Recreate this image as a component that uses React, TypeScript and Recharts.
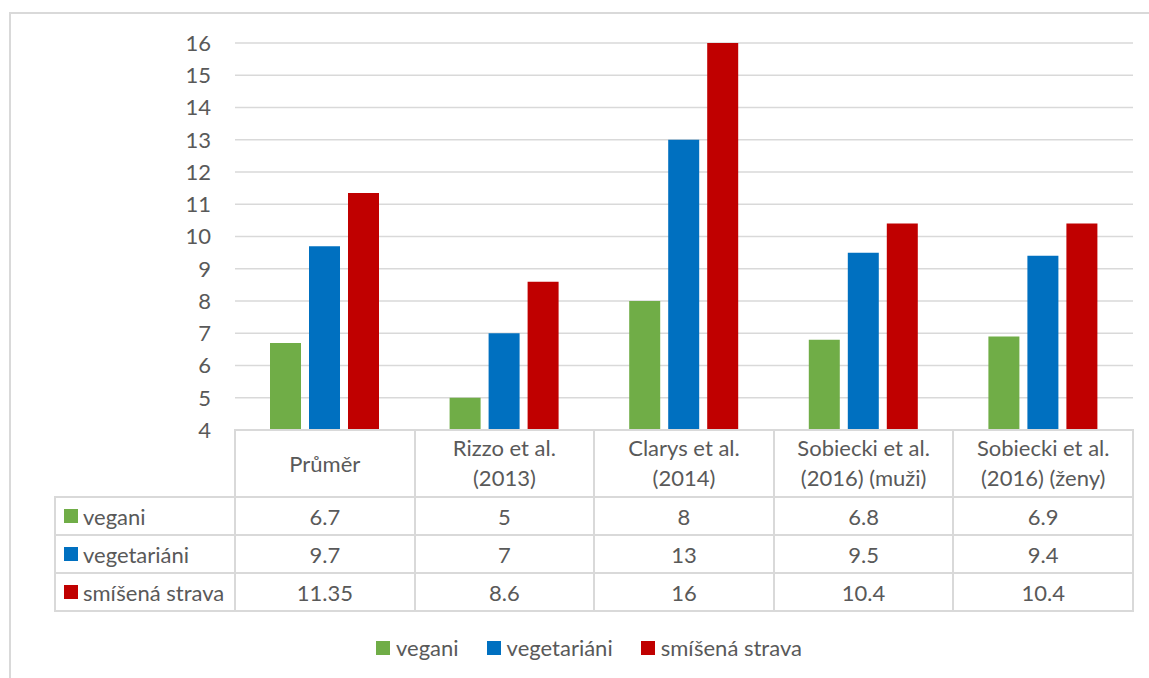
import React from 'react';
import { BarChart, Bar, XAxis, YAxis, CartesianGrid, Legend } from 'recharts';

// Chart values
const categories = [
    'Průměr',
    'Rizzo et al.\n(2013)',
    'Clarys et al.\n(2014)',
    'Sobiecki et al.\n(2016) (muži)',
    'Sobiecki et al.\n(2016) (ženy)',
];
const vegani = [6.7, 5, 8, 6.8, 6.9];
const vegetariani = [9.7, 7, 13, 9.5, 9.4];
const smisenaStrava = [11.35, 8.6, 16, 10.4, 10.4];
const yTicks = [4, 5, 6, 7, 8, 9, 10, 11, 12, 13, 14, 15, 16];

const series = [
    { key: 'vegani', name: 'vegani', color: '#70AD47', values: vegani },
    { key: 'vegetariani', name: 'vegetariáni', color: '#0070C0', values: vegetariani },
    { key: 'smisena', name: 'smíšená strava', color: '#C00000', values: smisenaStrava },
];

const data = categories.map((category, i) => {
    const row: Record<string, string | number> = { category };
    series.forEach(s => { row[s.key] = s.values[i]; });
    return row;
});

const TEXT = '#595959';
const LINE = '#d9d9d9';
const FONT = 22;

// layout of the plot area and the data table below it
const plotLeft = 235;
const plotRight = 1133;
const plotTop = 43;
const plotBottom = 430;
const headerH = 67;
const rowH = 38;
const tableLeft = 55;
const colW = (plotRight - plotLeft) / categories.length;

const CategoryTick = (props: any) => {
    const { x, y, payload } = props;
    const lines = String(payload.value).split('\n');
    const first = lines.length === 1 ? y + headerH / 2 : y + 18;
    return (
        <text x={x} textAnchor="middle" fill={TEXT} fontSize={FONT}>
            {lines.map((l, i) => (
                <tspan key={i} x={x} y={first + i * 30 + 8}>{l}</tspan>
            ))}
        </text>
    );
};

const LegendContent = () => (
    <div style={{ display: 'flex', alignItems: 'center', color: TEXT, fontSize: FONT }}>
        {series.map(s => (
            <div key={s.key} style={{ display: 'flex', alignItems: 'center', marginRight: 28 }}>
                <span style={{ width: 14, height: 14, background: s.color, marginRight: 6, display: 'inline-block' }} />
                <span>{s.name}</span>
            </div>
        ))}
    </div>
);

const DataTable = () => {
    const rowsTop = plotBottom + headerH;
    const tableBottom = rowsTop + rowH * series.length;
    const hLines = [
        { y: rowsTop, x1: tableLeft, x2: plotRight },
        ...series.map((_, i) => ({ y: rowsTop + rowH * (i + 1), x1: tableLeft, x2: plotRight })),
    ];
    const vLines = [
        { x: tableLeft, y1: rowsTop, y2: tableBottom },
        ...Array.from({ length: categories.length + 1 }, (_, i) => ({ x: plotLeft + colW * i, y1: plotBottom, y2: tableBottom })),
    ];
    return (
        <div style={{ position: 'absolute', left: 0, top: 0, width: 1149, height: 678, pointerEvents: 'none' }}>
            {hLines.map((l, i) => (
                <div key={'h' + i} style={{ position: 'absolute', left: l.x1 - 1, top: l.y - 1, width: l.x2 - l.x1 + 2, height: 2, background: LINE }} />
            ))}
            {vLines.map((l, i) => (
                <div key={'v' + i} style={{ position: 'absolute', left: l.x - 1, top: l.y1 - 1, width: 2, height: l.y2 - l.y1 + 2, background: LINE }} />
            ))}
            {series.map((s, r) => (
                <React.Fragment key={s.key}>
                    <div style={{ position: 'absolute', left: tableLeft + 9, top: rowsTop + rowH * r, height: rowH, display: 'flex', alignItems: 'center', color: TEXT, fontSize: FONT, whiteSpace: 'nowrap' }}>
                        <span style={{ width: 14, height: 14, background: s.color, marginRight: 5, display: 'inline-block' }} />
                        <span>{s.name}</span>
                    </div>
                    {s.values.map((v, c) => (
                        <div key={c} style={{ position: 'absolute', left: plotLeft + colW * c, top: rowsTop + rowH * r, width: colW, height: rowH, display: 'flex', alignItems: 'center', justifyContent: 'center', color: TEXT, fontSize: FONT }}>
                            {String(v)}
                        </div>
                    ))}
                </React.Fragment>
            ))}
        </div>
    );
};

export default function App() {
    return (
        <div style={{ position: 'absolute', left: 0, top: 0, width: 1149, height: 678, background: '#fff', fontFamily: 'Lato, "Open Sans", sans-serif', overflow: 'hidden' }}>
            {/* outer chart frame */}
            <div style={{ position: 'absolute', left: 9, top: 12, width: 1160, height: 700, borderTop: `2px solid ${LINE}`, borderLeft: `2px solid ${LINE}` }} />
            <div style={{ position: 'absolute', left: 0, top: 0 }}>
                <BarChart
                    width={1149}
                    height={678}
                    data={data}
                    margin={{ top: plotTop, right: 1149 - plotRight, left: plotLeft - 60, bottom: 678 - plotBottom - headerH }}
                    barSize={31}
                    barGap={8}
                >
                    <CartesianGrid vertical={false} stroke={LINE} strokeWidth={1.5} />
                    <XAxis
                        dataKey="category"
                        height={headerH}
                        interval={0}
                        tickLine={false}
                        tickSize={0}
                        tickMargin={0}
                        axisLine={{ stroke: LINE, strokeWidth: 2 }}
                        tick={<CategoryTick />}
                    />
                    <YAxis
                        type="number"
                        width={60}
                        domain={[4, 16]}
                        ticks={yTicks}
                        interval={0}
                        allowDataOverflow
                        axisLine={false}
                        tickLine={false}
                        tickMargin={18}
                        tick={{ fill: TEXT, fontSize: FONT }}
                    />
                    {series.map(s => (
                        <Bar key={s.key} dataKey={s.key} name={s.name} fill={s.color} isAnimationActive={false} />
                    ))}
                    <Legend
                        layout="horizontal"
                        verticalAlign="middle"
                        align="center"
                        wrapperStyle={{ top: 634, left: 376, width: 600, height: 26 }}
                        content={<LegendContent />}
                    />
                </BarChart>
            </div>
            <DataTable />
        </div>
    );
}
